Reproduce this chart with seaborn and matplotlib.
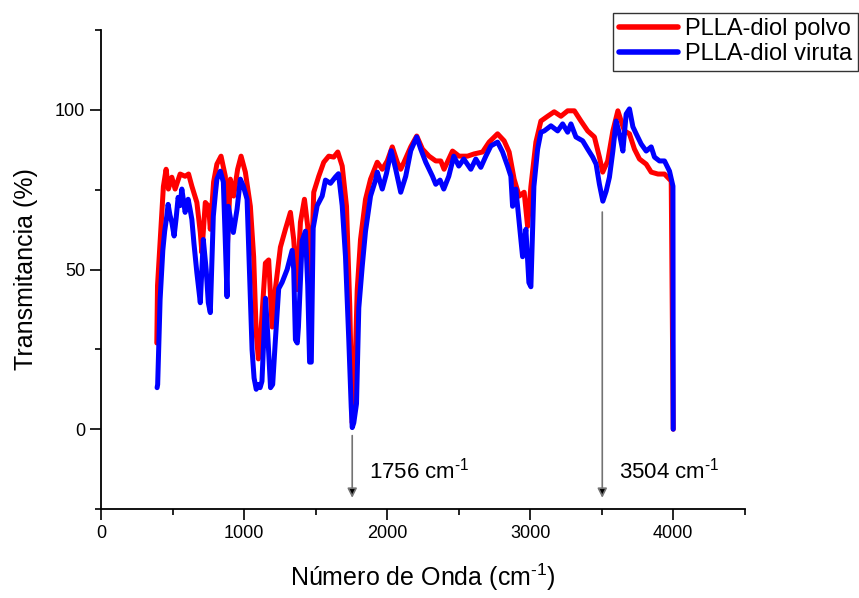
import numpy as np
import pandas as pd
import matplotlib
matplotlib.use("Agg")
import matplotlib.pyplot as plt
from matplotlib.ticker import MultipleLocator
import seaborn as sns

# Espectros FTIR (número de onda en cm-1, transmitancia en %)
wn_polvo = [
    390, 395, 436, 455, 471, 495, 518, 553, 588, 612,
    635, 670, 694, 705, 729, 752, 764, 787, 810, 839,
    869, 881, 904, 927, 955, 979, 1009, 1044, 1067, 1085,
    1100, 1114, 1149, 1172, 1196, 1219, 1254, 1289, 1324, 1347,
    1371, 1394, 1422, 1445, 1460, 1487, 1522, 1557, 1592, 1627,
    1655, 1686, 1716, 1739, 1756, 1767, 1791, 1814, 1849, 1884,
    1931, 1966, 2001, 2036, 2071, 2095, 2118, 2165, 2207, 2247,
    2293, 2340, 2375, 2398, 2457, 2503, 2562, 2608, 2667, 2713,
    2772, 2818, 2853, 2888, 2923, 2958, 2982, 3005, 3040, 3075,
    3122, 3168, 3215, 3262, 3309, 3355, 3402, 3449, 3484, 3507,
    3542, 3578, 3613, 3636, 3659, 3694, 3729, 3764, 3811, 3846,
    3893, 3939, 3986, 4000,
]
t_polvo = [
    27, 45, 76, 81.4, 75.2, 78.9, 75.2, 79.9, 79.2, 79.9,
    76.1, 71, 61.6, 55.3, 71, 69.8, 62.6, 77.4, 83, 85.5,
    79.2, 55, 78.3, 73, 81.4, 85.5, 80.5, 69.8, 54, 30,
    22, 28, 52, 53, 32, 44, 57, 62.6, 67.9, 59.4,
    43.7, 64.8, 72, 63.5, 35, 74.2, 79.2, 83.6, 85.5, 85.2,
    86.8, 82.4, 69.8, 38.4, 2, 5, 43.7, 59.4, 72, 78.3,
    83.6, 81.4, 84, 88.4, 83.6, 81.4, 83.6, 88.4, 91.8, 87.7,
    85.5, 84, 84, 81.4, 87.1, 85.5, 85.5, 86.2, 86.8, 89.9,
    92.5, 90.3, 86.8, 78.3, 73, 74.2, 63.5, 76, 89.9, 96.5,
    98, 99.4, 98, 99.7, 99.7, 96.5, 93.4, 91.5, 85.2, 80.5,
    84, 93.4, 99.7, 96.5, 93.4, 92.5, 87.7, 84.6, 83, 80.5,
    79.9, 79.9, 77.7, 0,
]

wn_viruta = [
    392, 396, 413, 432, 445, 460, 469, 482, 495, 511,
    525, 539, 552, 565, 588, 609, 622, 635, 650, 670,
    694, 705, 715, 735, 750, 764, 785, 800, 810, 834,
    855, 868, 881, 890, 905, 925, 951, 974, 995, 1021,
    1044, 1056, 1070, 1085, 1100, 1112, 1125, 1150, 1165, 1185,
    1200, 1219, 1242, 1266, 1301, 1336, 1347, 1359, 1372, 1380,
    1406, 1429, 1445, 1458, 1470, 1483, 1511, 1546, 1569, 1604,
    1639, 1660, 1686, 1709, 1732, 1749, 1756, 1767, 1786, 1802,
    1826, 1849, 1884, 1919, 1931, 1966, 1995, 2029, 2060, 2095,
    2130, 2165, 2207, 2235, 2270, 2317, 2340, 2370, 2396, 2431,
    2466, 2501, 2536, 2585, 2620, 2655, 2690, 2725, 2772, 2807,
    2842, 2865, 2877, 2900, 2921, 2947, 2970, 2991, 3005, 3026,
    3052, 3075, 3098, 3145, 3192, 3227, 3262, 3285, 3320, 3367,
    3402, 3437, 3461, 3484, 3508, 3531, 3554, 3578, 3601, 3624,
    3648, 3671, 3694, 3718, 3741, 3776, 3811, 3846, 3869, 3904,
    3939, 3974, 3998, 4000,
]
t_viruta = [
    13, 14, 40.6, 56, 62, 66.8, 70.4, 67, 64.8, 60.5,
    66, 72.6, 70, 75.2, 67.9, 72, 69, 65.7, 58, 49,
    39.6, 50, 59.4, 50, 39.6, 36.5, 66.7, 74, 78.3, 80.8,
    77.4, 60, 41.5, 69.8, 66, 61.6, 68.9, 78.3, 76.1, 72,
    40.6, 24.8, 16, 12.5, 14, 13, 15, 41, 30, 13,
    14, 28, 44, 46, 50, 56, 50, 28, 27, 32,
    59, 62, 45, 21, 21, 63, 70, 73, 78, 77,
    79, 80, 70, 54, 28, 7, 0.5, 2, 8, 38,
    51, 62, 73, 78, 80.5, 75.2, 80, 87.2, 81.4, 74.2,
    79.2, 87.2, 91.5, 87.7, 83.6, 79.2, 76.7, 78, 75.2, 79.2,
    85.5, 82.4, 84.6, 81.4, 84.6, 82, 85.5, 88.7, 89.9, 86.8,
    82.4, 79.2, 69.8, 75.2, 65.7, 54, 62.6, 45.9, 44.6, 76,
    87.7, 93, 93.4, 95, 93.4, 95.6, 93, 95.6, 91.5, 90.3,
    87.7, 85.2, 83, 76.7, 71.4, 74.5, 78.9, 87.1, 96.5, 92.5,
    87.1, 98.7, 100.3, 94.7, 92.5, 89.3, 87.1, 88.4, 85.2, 84,
    84, 80.8, 76.1, 0,
]

series_names = ["PLLA-diol polvo", "PLLA-diol viruta"]
series_colors = ["#ff0000", "#0000ff"]

# picos señalados con flecha
peak_wn = [1756, 3504]
peak_top = [-2, 68]
peak_labels = ["1756", "3504"]

df = pd.concat([
    pd.DataFrame({"wn": wn_polvo, "T": t_polvo, "muestra": series_names[0]}),
    pd.DataFrame({"wn": wn_viruta, "T": t_viruta, "muestra": series_names[1]}),
], ignore_index=True)

sns.set_style("ticks")
plt.rcParams["font.family"] = ["Liberation Sans", "DejaVu Sans"]
plt.rcParams["mathtext.fontset"] = "custom"
plt.rcParams["mathtext.rm"] = "Liberation Sans"
plt.rcParams["mathtext.it"] = "Liberation Sans:italic"
plt.rcParams["text.color"] = "black"
plt.rcParams["axes.labelcolor"] = "black"
plt.rcParams["xtick.color"] = "black"
plt.rcParams["ytick.color"] = "black"

fig = plt.figure(figsize=(8.59, 5.98), dpi=100)
ax = fig.add_axes([0.1176, 0.1488, 0.7494, 0.8010])

sns.lineplot(data=df, x="wn", y="T", hue="muestra", hue_order=series_names,
             palette=dict(zip(series_names, series_colors)), estimator=None,
             sort=False, linewidth=3.6, ax=ax, legend=False)

ax.set_xlim(0, 4500)
ax.set_ylim(-25, 125)
ax.xaxis.set_major_locator(MultipleLocator(1000))
ax.xaxis.set_minor_locator(MultipleLocator(500))
ax.yaxis.set_major_locator(MultipleLocator(50))
ax.yaxis.set_minor_locator(MultipleLocator(25))
ax.tick_params(which="major", length=8, width=1.2, labelsize=13, colors="black")
ax.tick_params(which="minor", length=4, width=1.2, colors="black")
sns.despine(ax=ax)
for s in ["left", "bottom"]:
    ax.spines[s].set_linewidth(1.3)
    ax.spines[s].set_color("black")

sup = r"$^{\text{-1}}$"
ax.set_xlabel("Número de Onda (cm" + sup + ")", fontsize=18, labelpad=14)
ax.set_ylabel("Transmitancia (%)", fontsize=18, labelpad=12)

for w, top, lab in zip(peak_wn, peak_top, peak_labels):
    ax.annotate("", xy=(w, -21.5), xytext=(w, top),
                arrowprops=dict(arrowstyle="-|>", ec="0.45", fc="black",
                                lw=1.2, mutation_scale=14, shrinkA=0, shrinkB=0))
    ax.text(w + 120, -13, lab + " cm" + sup, fontsize=16,
            ha="left", va="center")

handles = [plt.Line2D([], [], color=c, lw=4) for c in series_colors]
leg = ax.legend(handles, series_names, loc="upper right",
                bbox_to_anchor=(0.999, 0.979), bbox_transform=fig.transFigure,
                fontsize=17, frameon=True, fancybox=False, borderpad=0.25,
                labelspacing=0.1, handlelength=2.5, handletextpad=0.3,
                borderaxespad=0)
leg.get_frame().set_edgecolor("black")
leg.get_frame().set_linewidth(1.0)

fig.savefig("out.png", dpi=100)
